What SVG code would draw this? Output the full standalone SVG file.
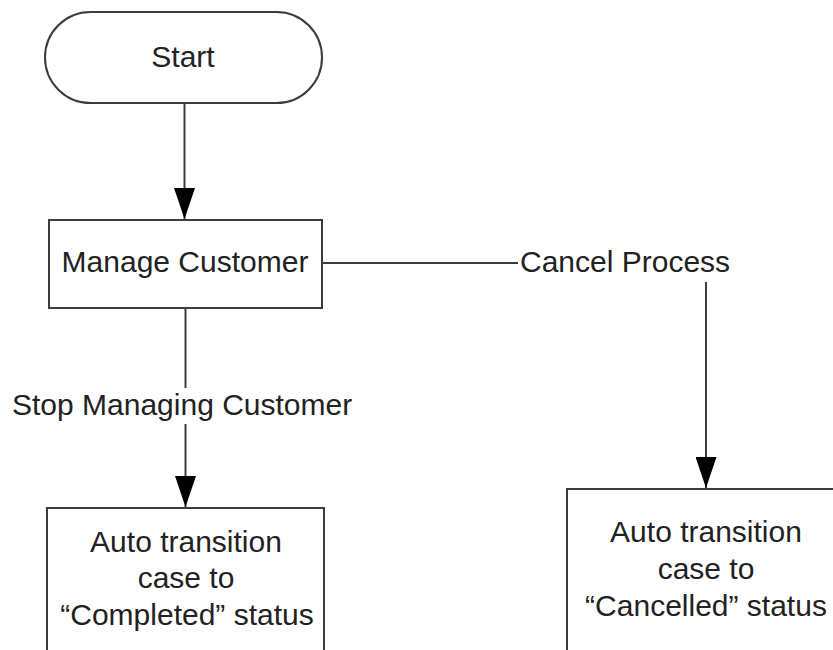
<svg xmlns="http://www.w3.org/2000/svg" width="833" height="650" viewBox="0 0 833 650">
  <defs>
    <marker id="arrow" markerUnits="userSpaceOnUse" markerWidth="31" markerHeight="21" refX="31" refY="10.5" orient="auto" viewBox="0 0 31 21">
      <polygon points="0,0 31,10.5 0,21" fill="#000"/>
    </marker>
    <style>
      .shape { fill: #fff; stroke: #3c3c3c; stroke-width: 2; }
      .conn { fill: none; stroke: #3c3c3c; stroke-width: 2; }
      .lbl { font-family: "Liberation Sans", Arial, sans-serif; font-size: 30px; fill: #222; }
      .mid { text-anchor: middle; }
      .mask { fill: #fff; stroke: none; }
    </style>
  </defs>
  <rect width="833" height="650" fill="#fff"/>

  <g id="connectors">
    <g id="c-start-manage">
      <path class="conn" d="M184.5,103 V219" marker-end="url(#arrow)"/>
    </g>
    <g id="c-manage-completed">
      <path class="conn" d="M185.5,308 V507" marker-end="url(#arrow)"/>
      <rect class="mask" x="8" y="388" width="356" height="36"/>
      <text class="lbl" x="12" y="415">Stop Managing Customer</text>
    </g>
    <g id="c-manage-cancelled">
      <path class="conn" d="M322,263 H706 V488" marker-end="url(#arrow)"/>
      <rect class="mask" x="518" y="244" width="218" height="38"/>
      <text class="lbl" x="520" y="272">Cancel Process</text>
    </g>
  </g>

  <g id="start">
    <rect class="shape" x="45" y="12" width="277" height="91" rx="45.5" ry="45.5"/>
    <text class="lbl mid" x="183" y="67">Start</text>
  </g>

  <g id="manage-customer">
    <rect class="shape" x="49" y="220" width="273" height="88"/>
    <text class="lbl mid" x="185" y="272">Manage Customer</text>
  </g>

  <g id="completed">
    <rect class="shape" x="47" y="508" width="277" height="180"/>
    <text class="lbl mid" x="186" y="552">Auto transition</text>
    <text class="lbl mid" x="186" y="588">case to</text>
    <text class="lbl mid" x="187" y="625">“Completed” status</text>
  </g>

  <g id="cancelled">
    <rect class="shape" x="567" y="489" width="300" height="200"/>
    <text class="lbl mid" x="706" y="542">Auto transition</text>
    <text class="lbl mid" x="706" y="579">case to</text>
    <text class="lbl mid" x="706" y="616">“Cancelled” status</text>
  </g>
</svg>
